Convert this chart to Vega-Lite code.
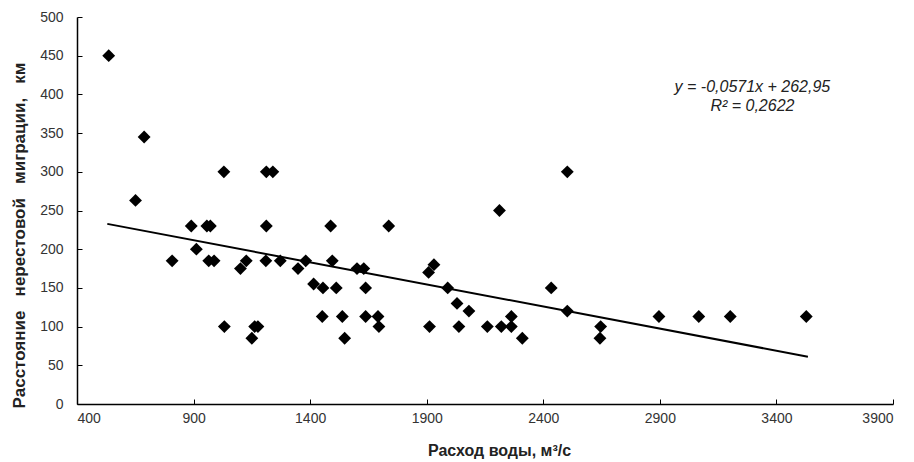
{
  "$schema": "https://vega.github.io/schema/vega-lite/v6.json",
  "width": 816,
  "height": 387,
  "autosize": {"type": "none"},
  "padding": {"left": 77, "top": 17, "right": 21, "bottom": 58},
  "background": "white",
  "config": {
    "view": {"stroke": null},
    "font": "Liberation Sans",
    "axis": {
      "grid": false,
      "domainColor": "black",
      "domainWidth": 1.5,
      "tickColor": "black",
      "tickWidth": 1,
      "tickSize": -5,
      "labelOverlap": false,
      "labelFont": "Liberation Sans",
      "labelFontSize": 14,
      "labelColor": "#333333",
      "titleFont": "Liberation Sans",
      "titleFontWeight": "bold",
      "titleColor": "#222222"
    }
  },
  "datasets": {
    "pts": [
      {"q": 536, "d": 450}, {"q": 651, "d": 263}, {"q": 688, "d": 345}, {"q": 808, "d": 185},
      {"q": 890, "d": 230}, {"q": 912, "d": 200}, {"q": 957, "d": 230}, {"q": 972, "d": 230},
      {"q": 965, "d": 185}, {"q": 988, "d": 185}, {"q": 1030, "d": 300}, {"q": 1032, "d": 100},
      {"q": 1101, "d": 175}, {"q": 1126, "d": 185}, {"q": 1150, "d": 85}, {"q": 1162, "d": 100},
      {"q": 1176, "d": 100}, {"q": 1212, "d": 230}, {"q": 1210, "d": 185}, {"q": 1212, "d": 300},
      {"q": 1240, "d": 300}, {"q": 1272, "d": 185}, {"q": 1348, "d": 175}, {"q": 1381, "d": 185},
      {"q": 1415, "d": 155}, {"q": 1455, "d": 150}, {"q": 1452, "d": 113}, {"q": 1488, "d": 230},
      {"q": 1495, "d": 185}, {"q": 1512, "d": 150}, {"q": 1538, "d": 113}, {"q": 1548, "d": 85},
      {"q": 1601, "d": 175}, {"q": 1630, "d": 175}, {"q": 1638, "d": 150}, {"q": 1638, "d": 113},
      {"q": 1691, "d": 113}, {"q": 1695, "d": 100}, {"q": 1737, "d": 230}, {"q": 1908, "d": 170},
      {"q": 1931, "d": 180}, {"q": 1912, "d": 100}, {"q": 1990, "d": 150}, {"q": 2030, "d": 130},
      {"q": 2038, "d": 100}, {"q": 2081, "d": 120}, {"q": 2160, "d": 100}, {"q": 2212, "d": 250},
      {"q": 2220, "d": 100}, {"q": 2263, "d": 100}, {"q": 2263, "d": 113}, {"q": 2310, "d": 85},
      {"q": 2434, "d": 150}, {"q": 2503, "d": 120}, {"q": 2503, "d": 300}, {"q": 2646, "d": 100},
      {"q": 2643, "d": 85}, {"q": 2896, "d": 113}, {"q": 3067, "d": 113}, {"q": 3202, "d": 113},
      {"q": 3528, "d": 113}
    ],
    "trend": [
      {"q": 530, "d": 232.7},
      {"q": 3535, "d": 61.1}
    ],
    "note": [
      {"q": 3297, "d": 410, "label": "y = -0,0571x + 262,95\nR² = 0,2622"}
    ]
  },
  "encoding": {
    "x": {
      "field": "q", "type": "quantitative",
      "scale": {"domain": [400, 3900], "nice": false, "zero": false},
      "axis": {"values": [400, 900, 1400, 1900, 2400, 2900, 3400, 3900], "format": "d", "labelOverlap": false, "title": "Расход воды, м³/с", "titleFontSize": 16, "labelPadding": 12, "titlePadding": 17, "titleX": 422}
    },
    "y": {
      "field": "d", "type": "quantitative",
      "scale": {"domain": [0, 500], "nice": false},
      "axis": {"values": [0, 50, 100, 150, 200, 250, 300, 350, 400, 450, 500], "format": "d", "labelOverlap": false, "tickCount": 11, "title": "Расстояние\u00a0\u00a0 нерестовой\u00a0\u00a0 миграции,\u00a0\u00a0 км", "titleFontSize": 17, "labelPadding": 19, "titlePadding": 11, "titleY": 218}
    }
  },
  "layer": [
    {
      "data": {"name": "trend"},
      "mark": {"type": "line", "color": "black", "strokeWidth": 2}
    },
    {
      "data": {"name": "pts"},
      "mark": {"type": "point", "shape": "diamond", "filled": true, "color": "black", "opacity": 1, "size": 165}
    },
    {
      "data": {"name": "note"},
      "mark": {"type": "text", "fontStyle": "italic", "fontSize": 16, "font": "Liberation Sans", "color": "#222222", "align": "center", "baseline": "middle", "lineBreak": "\n", "lineHeight": 19},
      "encoding": {
        "text": {"field": "label"}
      }
    }
  ]
}
